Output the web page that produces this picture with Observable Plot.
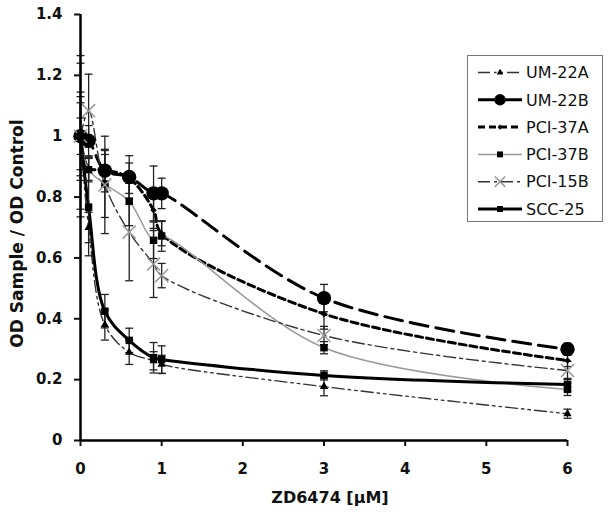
<!DOCTYPE html>
<html><head><meta charset="utf-8">
<script src="https://cdn.jsdelivr.net/npm/d3@7"></script>
<script src="https://cdn.jsdelivr.net/npm/@observablehq/plot@0.6"></script>
<style>
body{margin:0;background:#fff;}
#wrap{position:relative;width:612px;height:518px;background:#fff;}
</style></head><body><div id="wrap"></div>
<script>
// ---- data ----
const doses = [0, 0.1, 0.3, 0.6, 0.9, 1, 3, 6];
const seriesNames = ["UM-22A", "UM-22B", "PCI-37A", "PCI-37B", "PCI-15B", "SCC-25"];
const um22a    = [1.0, 0.70, 0.38, 0.29, 0.262, 0.25, 0.177, 0.088];
const um22aErr = [0.265, 0.05, 0.05, 0.04, 0.03, 0.03, 0.03, 0.015];
const um22b    = [1.0, 0.985, 0.887, 0.866, 0.812, 0.812, 0.468, 0.30];
const um22bErr = [0.145, 0.05, 0.07, 0.07, 0.09, 0.05, 0.045, 0.02];
const pci37a    = [1.0, 0.895, 0.89, 0.862, 0.757, 0.68, 0.416, 0.263];
const pci37aErr = [0.13, 0.04, 0.05, 0.05, 0.06, 0.04, 0.05, 0.02];
const pci37b    = [1.0, 0.89, 0.843, 0.786, 0.658, 0.672, 0.305, 0.168];
const pci37bErr = [0.11, 0.04, 0.11, 0.08, 0.06, 0.05, 0.02, 0.02];
const pci15b    = [1.0, 1.084, 0.84, 0.685, 0.58, 0.542, 0.345, 0.23];
const pci15bErr = [0.06, 0.12, 0.16, 0.16, 0.11, 0.04, 0.03, 0.03];
const scc25    = [1.0, 0.767, 0.425, 0.329, 0.272, 0.266, 0.214, 0.184];
const scc25Err = [0.24, 0.16, 0.055, 0.04, 0.05, 0.045, 0.015, 0.02];
const xTicks = [0, 1, 2, 3, 4, 5, 6];
const yTicks = [0, 0.2, 0.4, 0.6, 0.8, 1, 1.2, 1.4];
const xTitle = "ZD6474 [µM]";
const yTitle = "OD Sample / OD Control";

const values = {"UM-22A": [um22a, um22aErr], "UM-22B": [um22b, um22bErr], "PCI-37A": [pci37a, pci37aErr],
  "PCI-37B": [pci37b, pci37bErr], "PCI-15B": [pci15b, pci15bErr], "SCC-25": [scc25, scc25Err]};

// ---- styles ----
const styles = {
  "UM-22A":  {stroke: "#333", width: 1.4, dash: "12,4,2.5,4,2.5,4", symbol: "triangle", r: 3.1, fill: "#000", mstroke: "none"},
  "UM-22B":  {stroke: "#000", width: 3,   dash: "18,8", symbol: "circle", r: 7.2, fill: "#000", mstroke: "none"},
  "PCI-37A": {stroke: "#000", width: 3,   dash: "7,4", symbol: "diamond2", r: 2.9, fill: "#000", mstroke: "none"},
  "PCI-37B": {stroke: "#999", width: 1.5, dash: null, symbol: "square", r: 4.2, fill: "#000", mstroke: "none"},
  "PCI-15B": {stroke: "#333", width: 1.4, dash: "12,4,3,4", symbol: "times", r: 6, fill: "none", mstroke: "#999"},
  "SCC-25":  {stroke: "#000", width: 3,   dash: null, symbol: "square", r: 4.2, fill: "#000", mstroke: "none"}
};

const rows = [];
for (const name of seriesNames) {
  const [ys, es] = values[name];
  doses.forEach((x, i) => rows.push({series: name, x, y: ys[i], err: es[i]}));
}

const capSymbol = {draw(ctx, size) { const w = Math.sqrt(size / Math.PI); ctx.moveTo(-w, 0); ctx.lineTo(w, 0); }};

const marks = [];
for (const name of seriesNames) {
  const s = styles[name];
  marks.push(Plot.line(rows.filter(d => d.series === name), {
    x: "x", y: "y", curve: "catmull-rom", stroke: s.stroke, strokeWidth: s.width,
    strokeDasharray: s.dash || undefined
  }));
}
marks.push(Plot.ruleX(rows, {x: "x", y1: d => d.y - d.err, y2: d => d.y + d.err, stroke: "#222", strokeWidth: 1.3}));
marks.push(Plot.dot(rows, {x: "x", y: d => d.y + d.err, symbol: capSymbol, r: 4, stroke: "#222", strokeWidth: 1.3}));
marks.push(Plot.dot(rows, {x: "x", y: d => d.y - d.err, symbol: capSymbol, r: 4, stroke: "#222", strokeWidth: 1.3}));
for (const name of seriesNames) {
  const s = styles[name];
  marks.push(Plot.dot(rows.filter(d => d.series === name), {
    x: "x", y: "y", symbol: s.symbol, r: s.r, fill: s.fill, stroke: s.mstroke, strokeWidth: 1.5
  }));
}

const chart = Plot.plot({
  width: 612, height: 518,
  marginLeft: 80, marginRight: 45, marginTop: 14, marginBottom: 78,
  style: {fontFamily: "'DejaVu Sans', sans-serif", fontSize: "15px", fontWeight: "bold", color: "#111", background: "#fff"},
  x: {domain: [0, 6]},
  y: {domain: [0, 1.4]},
  marks: [
    ...marks,
    Plot.ruleY([0], {stroke: "#000", strokeWidth: 2.5}),
    Plot.ruleX([0], {stroke: "#000", strokeWidth: 2.5}),
    Plot.axisX({ticks: xTicks, tickSize: 6, tickPadding: 17, tickFormat: d => String(d), label: null, strokeWidth: 2, fontSize: 15}),
    Plot.axisY({ticks: yTicks, tickSize: 6, tickPadding: 12, tickFormat: d => String(d), label: null, strokeWidth: 2, fontSize: 15}),
    Plot.text([xTitle], {text: d => d, frameAnchor: "bottom", dy: 62, dx: 6, fontSize: 16, fontWeight: "bold", fill: "#111"}),
    Plot.text([yTitle], {text: d => d, frameAnchor: "left", textAnchor: "middle", dx: -63, dy: 6, rotate: -90, fontSize: 17, fontWeight: "bold", fill: "#111"})
  ]
});
const wrap = document.getElementById("wrap");
wrap.appendChild(chart);

// ---- legend ----
const symMap = {triangle: d3.symbolTriangle, circle: d3.symbolCircle, diamond2: d3.symbolDiamond2, square: d3.symbolSquare, times: d3.symbolTimes};
const leg = d3.create("svg").attr("width", 138).attr("height", 169)
  .style("position", "absolute").style("left", "466px").style("top", "54px");
leg.append("rect").attr("x", 1.5).attr("y", 1.5).attr("width", 135).attr("height", 166)
  .attr("fill", "#fff").attr("stroke", "#777").attr("stroke-width", 1);
seriesNames.forEach((name, i) => {
  const s = styles[name];
  const cy = 18.5 + i * 27.3;
  leg.append("line").attr("x1", 12).attr("x2", 56).attr("y1", cy).attr("y2", cy)
    .attr("stroke", s.stroke).attr("stroke-width", s.width).attr("stroke-dasharray", s.dash);
  const rr = s.r * 0.8;
  leg.append("path").attr("transform", `translate(34,${cy})`)
    .attr("d", d3.symbol(symMap[s.symbol], Math.PI * rr * rr)())
    .attr("fill", s.fill).attr("stroke", s.mstroke === "none" ? null : s.mstroke).attr("stroke-width", 1.5);
  leg.append("text").attr("x", 60).attr("y", cy).attr("dy", "0.36em")
    .attr("font-family", "'DejaVu Sans', sans-serif").attr("font-size", 16).attr("fill", "#111").text(name);
});
wrap.appendChild(leg.node());
</script>
</body></html>
